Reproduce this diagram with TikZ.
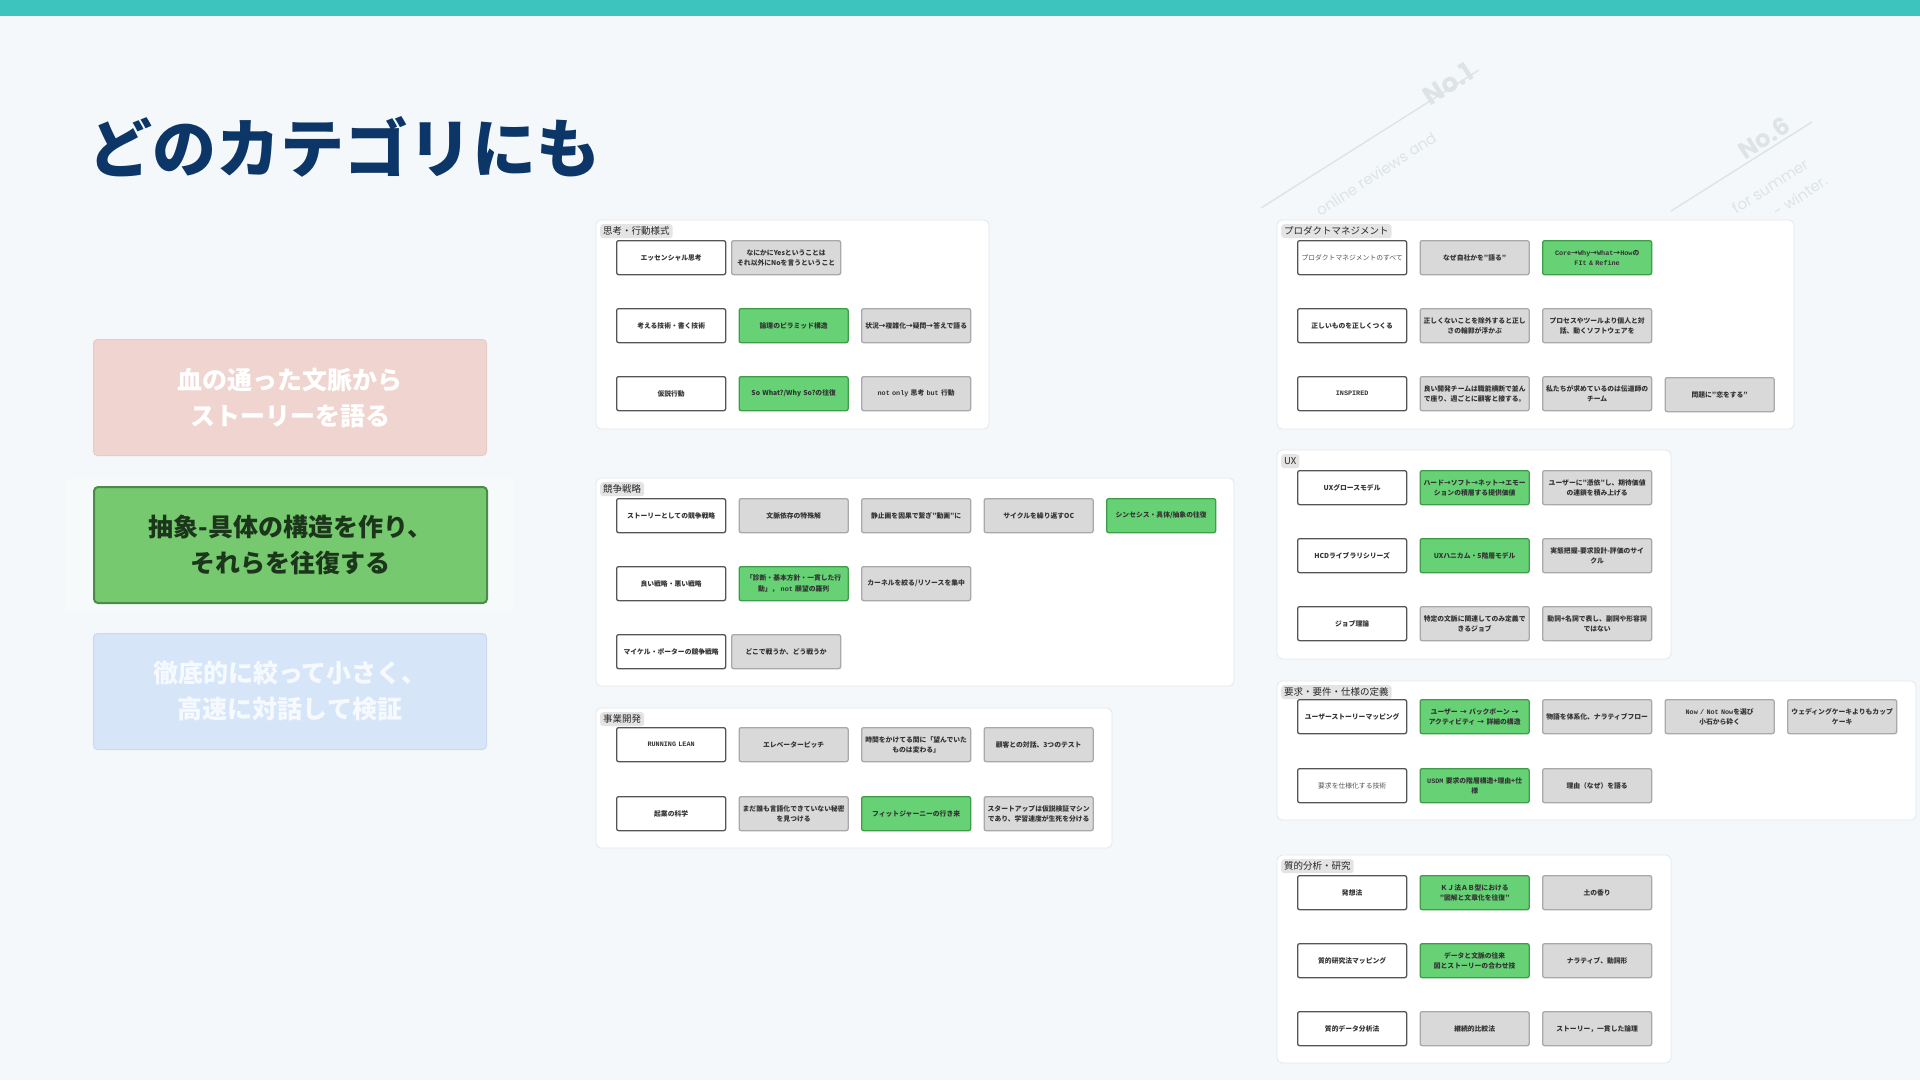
\documentclass[tikz,border=0pt]{standalone}
\usepackage{fontspec}
\setmainfont{Noto Sans CJK JP}
\newfontfamily\monofnt{Liberation Mono}
\newfontfamily\decofnt{Poppins}
\newcommand\mn[1]{{\monofnt #1}}
\newcommand\boxfnt{\fontsize{6.8}{10.2}\selectfont\bfseries}
\newcommand\boxfntl{\fontsize{6.8}{10.2}\selectfont}
\definecolor{bgc}{HTML}{F4F8FA}
\definecolor{tealc}{HTML}{3DC4BE}
\definecolor{navyc}{HTML}{0C3667}
\definecolor{pnlborder}{HTML}{E2E7EA}
\definecolor{tagfill}{HTML}{E4E4E4}
\definecolor{wborder}{HTML}{555555}
\definecolor{gfill}{HTML}{D9D9D9}
\definecolor{gborder}{HTML}{A9A9A9}
\definecolor{grfill}{HTML}{66D275}
\definecolor{grborder}{HTML}{3F9D4A}
\definecolor{boxtext}{HTML}{333333}
\definecolor{pinkfill}{HTML}{F0D4CF}
\definecolor{pinkborder}{HTML}{E9CBC5}
\definecolor{pinktext}{HTML}{FFFFFF}
\definecolor{bluefill}{HTML}{D6E6F8}
\definecolor{blueborder}{HTML}{C9DAEF}
\definecolor{bluetext}{HTML}{F6FAFF}
\definecolor{bigfill}{HTML}{77C96F}
\definecolor{bigborder}{HTML}{4C8C48}
\definecolor{bigtext}{HTML}{1C361C}
\definecolor{decoc}{HTML}{DEE3E6}
\begin{document}
\begin{tikzpicture}[x=1pt,y=-1pt,
  basebx/.style={line width=1.3pt, rounded corners=2pt, minimum width=109pt,
    minimum height=34pt, inner sep=1pt, text width=107pt, align=center,
    anchor=north west, font=\boxfnt, text=boxtext},
  wbx/.style={basebx, draw=wborder, fill=white},
  wbxl/.style={wbx, font=\boxfntl, text=boxtext!85},
  gbx/.style={basebx, draw=gborder, fill=gfill},
  grbx/.style={basebx, draw=grborder, fill=grfill},
  pnl/.style={draw=pnlborder, fill=white, line width=0.8pt, rounded corners=5pt},
  tagbx/.style={fill=tagfill, rounded corners=3pt, anchor=north west, inner xsep=3pt,
    inner ysep=0pt, minimum height=14pt, font=\fontsize{9.5}{10}\selectfont, text=black!85},
  bigbx/.style={rounded corners=4pt, minimum width=393pt, minimum height=116pt,
    anchor=north west, align=center, font=\fontsize{25}{36}\selectfont\bfseries, inner sep=0pt},
  deco/.style={text=decoc, rotate=33, inner sep=0pt},
  decoline/.style={draw=decoc, line width=1.4pt}
]
\useasboundingbox (0,0) rectangle (1920,1080);
\fill[bgc] (0,0) rectangle (1920,1080);
\fill[tealc] (0,0) rectangle (1920,16);

% faint decoration top right
\coordinate (dl1a) at (1261,208); \coordinate (dl1b) at (1479,70);
\coordinate (dl2a) at (1671,211); \coordinate (dl2b) at (1812,122);
\draw[decoline] (dl1a) -- (dl1b);
\draw[decoline] (dl2a) -- (dl2b);
\node[deco, font=\decofnt\bfseries\fontsize{26}{30}\selectfont] (no1) at (1448,84) {No.1};
\node[deco, font=\decofnt\fontsize{15}{18}\selectfont] (rev) at (1376,174) {online reviews and};
\node[deco, font=\decofnt\bfseries\fontsize{24}{28}\selectfont] (no6) at (1764,138) {No.6};
\node[deco, font=\decofnt\fontsize{15}{18}\selectfont] (sum) at (1770,186) {for summer};
\node[deco, font=\decofnt\fontsize{15}{18}\selectfont] (win) at (1800,196) {- winter.};

% title
\node[anchor=base west, inner sep=0pt, text=navyc, font=\fontsize{64}{70}\selectfont\bfseries] (title) at (88,172) {どのカテゴリにも};

% left big boxes
\fill[white, opacity=0.35] (65,479) rectangle (513,613);
\node[bigbx, fill=pinkfill, draw=pinkborder, line width=1pt, text=pinktext] (bpink) at (93,339) {血の通った文脈から\\ストーリーを語る};
\node[bigbx, fill=bigfill, draw=bigborder, line width=2pt, text=bigtext] (bgreen) at (93,486) {抽象-具体の構造を作り、\\ それらを往復する};
\node[bigbx, fill=bluefill, draw=blueborder, line width=1pt, text=bluetext] (bblue) at (93,633) {徹底的に絞って小さく、\\ 高速に対話して検証};

% ---------- Panel A: 思考・行動様式
\draw[pnl] (596,220) rectangle (989,429);
\node[tagbx] (tA) at (600,224) {思考・行動様式};
\node[wbx] (a11) at (616,240) {エッセンシャル思考};
\node[gbx] (a12) at (731,240) {なにかにYesということは\\それ以外にNoを言うということ};
\node[wbx] (a21) at (616,308) {考える技術・書く技術};
\node[grbx] (a22) at (738.5,308) {論理のピラミッド構造};
\node[gbx] (a23) at (861,308) {状況→複雑化→疑問→答えで語る};
\node[wbx] (a31) at (616,376) {仮説行動};
\node[grbx] (a32) at (738.5,376) {So What?/Why So?の往復};
\node[gbx] (a33) at (861,376) {\mn{not only }思考\mn{ but }行動};

% ---------- Panel B: 競争戦略
\draw[pnl] (596,478) rectangle (1234,686);
\node[tagbx] (tB) at (600,482) {競争戦略};
\node[wbx] (b11) at (616,498) {ストーリーとしての競争戦略};
\node[gbx] (b12) at (738.5,498) {文脈依存の特殊解};
\node[gbx] (b13) at (861,498) {静止画を因果で繋ぎ"動画"に};
\node[gbx] (b14) at (983.5,498) {サイクルを繰り返すOC};
\node[grbx] (b15) at (1106,498) {シンセシス・具体/抽象の往復};
\node[wbx] (b21) at (616,566) {良い戦略・悪い戦略};
\node[grbx] (b22) at (738.5,566) {「診断・基本方針・一貫した行\\動」，\mn{ not }願望の羅列};
\node[gbx] (b23) at (861,566) {カーネルを絞る/リソースを集中};
\node[wbx] (b31) at (616,634) {マイケル・ポーターの競争戦略};
\node[gbx] (b32) at (731,634) {どこで戦うか、どう戦うか};

% ---------- Panel C: 事業開発
\draw[pnl] (596,708) rectangle (1112,848);
\node[tagbx] (tC) at (600,712) {事業開発};
\node[wbx] (c11) at (616,727) {\mn{RUNNING LEAN}};
\node[gbx] (c12) at (738.5,727) {エレベーターピッチ};
\node[gbx] (c13) at (861,727) {時間をかけてる間に「望んでいた\\ものは変わる」};
\node[gbx] (c14) at (983.5,727) {顧客との対話、3つのテスト};
\node[wbx] (c21) at (616,796) {起業の科学};
\node[gbx] (c22) at (738.5,796) {まだ誰も言語化できていない秘密\\を見つける};
\node[grbx] (c23) at (861,796) {フィットジャーニーの行き来};
\node[gbx] (c24) at (983.5,796) {スタートアップは仮説検証マシン\\であり、学習速度が生死を分ける};

% ---------- Panel D: プロダクトマネジメント
\draw[pnl] (1277,220) rectangle (1794,429);
\node[tagbx] (tD) at (1281,224) {プロダクトマネジメント};
\node[wbxl] (d11) at (1297,240) {プロダクトマネジメントのすべて};
\node[gbx] (d12) at (1419.5,240) {なぜ自社かを"語る"};
\node[grbx] (d13) at (1542,240) {\mn{Core}→\mn{Why}→\mn{What}→\mn{How}の\\\mn{FIt \& Refine}};
\node[wbx] (d21) at (1297,308) {正しいものを正しくつくる};
\node[gbx] (d22) at (1419.5,308) {正しくないことを除外すると正し\\さの輪郭が浮かぶ};
\node[gbx] (d23) at (1542,308) {プロセスやツールより個人と対\\話、動くソフトウェアを};
\node[wbx] (d31) at (1297,376) {\mn{INSPIRED}};
\node[gbx] (d32) at (1419.5,376) {良い開発チームは職能横断で並ん\\で座り、週ごとに顧客と接する。};
\node[gbx] (d33) at (1542,376) {私たちが求めているのは伝道師の\\チーム};
\node[gbx] (d34) at (1664.5,377) {問題に"恋をする"};

% ---------- Panel E: UX
\draw[pnl] (1277,450) rectangle (1671,659);
\node[tagbx] (tE) at (1281,454) {UX};
\node[wbx] (e11) at (1297,470) {UXグロースモデル};
\node[grbx] (e12) at (1419.5,470) {ハード→ソフト→ネット→エモー\\ションの積層する提供価値};
\node[gbx] (e13) at (1542,470) {ユーザーに"憑依"し、期待価値\\の連鎖を積み上げる};
\node[wbx] (e21) at (1297,538) {HCDライブラリシリーズ};
\node[grbx] (e22) at (1419.5,538) {UXハニカム・5階層モデル};
\node[gbx] (e23) at (1542,538) {実態把握-要求設計-評価のサイ\\クル};
\node[wbx] (e31) at (1297,606) {ジョブ理論};
\node[gbx] (e32) at (1419.5,606) {特定の文脈に関連してのみ定義で\\きるジョブ};
\node[gbx] (e33) at (1542,606) {動詞+名詞で表し、副詞や形容詞\\ではない};

% ---------- Panel F: 要求・要件・仕様の定義
\draw[pnl] (1277,681) rectangle (1916,820);
\node[tagbx] (tF) at (1281,685) {要求・要件・仕様の定義};
\node[wbx] (f11) at (1297,699) {ユーザーストーリーマッピング};
\node[grbx] (f12) at (1419.5,699) {ユーザー → バックボーン →\\アクティビティ → 詳細の構造};
\node[gbx] (f13) at (1542,699) {物語を体系化、ナラティブフロー};
\node[gbx] (f14) at (1664.5,699) {\mn{Now / Not Now}を選び\\小石から砕く};
\node[gbx] (f15) at (1787,699) {ウェディングケーキよりもカップ\\ケーキ};
\node[wbxl] (f21) at (1297,768) {要求を仕様化する技術};
\node[grbx] (f22) at (1419.5,768) {\mn{USDM} 要求の階層構造+理由+仕\\様};
\node[gbx] (f23) at (1542,768) {理由（なぜ）を語る};

% ---------- Panel G: 質的分析・研究
\draw[pnl] (1277,855) rectangle (1671,1063);
\node[tagbx] (tG) at (1281,859) {質的分析・研究};
\node[wbx] (g11) at (1297,875) {発想法};
\node[grbx] (g12) at (1419.5,875) {ＫＪ法ＡＢ型における\\"図解と文章化を往復"};
\node[gbx] (g13) at (1542,875) {土の香り};
\node[wbx] (g21) at (1297,943) {質的研究法マッピング};
\node[grbx] (g22) at (1419.5,943) {データと文脈の往来\\図とストーリーの合わせ技};
\node[gbx] (g23) at (1542,943) {ナラティブ、動詞形};
\node[wbx] (g31) at (1297,1011) {質的データ分析法};
\node[gbx] (g32) at (1419.5,1011) {継続的比較法};
\node[gbx] (g33) at (1542,1011) {ストーリー，一貫した論理};
\end{tikzpicture}
\end{document}
